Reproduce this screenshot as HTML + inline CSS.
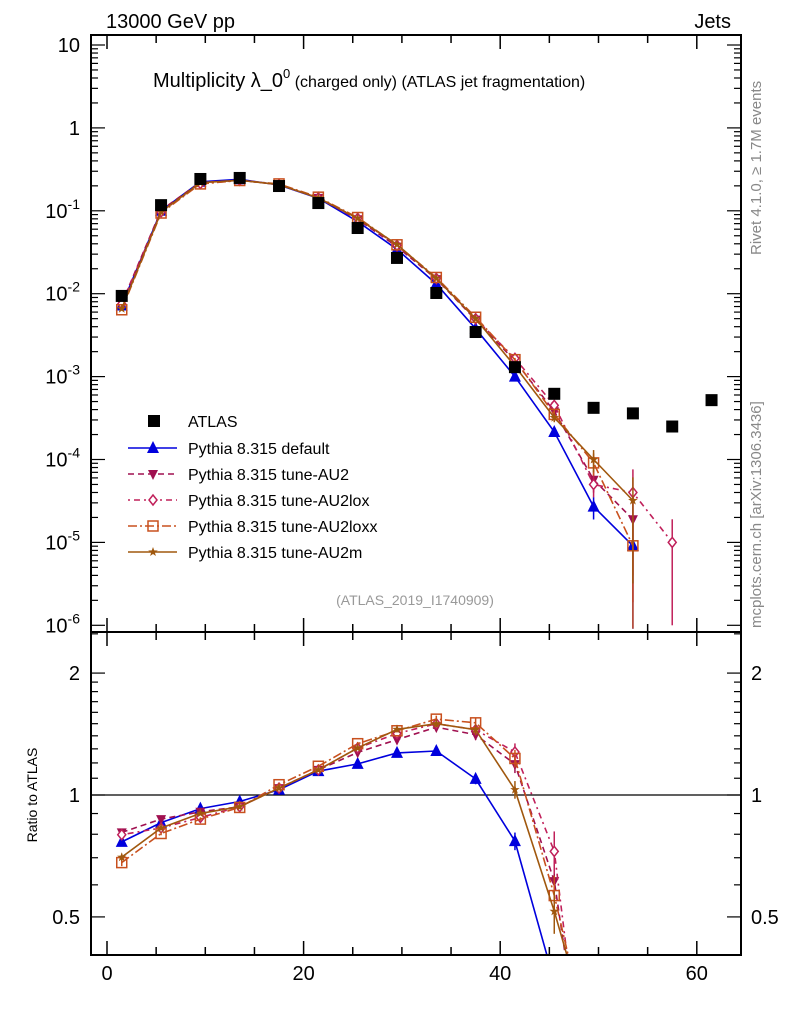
<!DOCTYPE html>
<html><head><meta charset="utf-8"><style>
html,body{margin:0;padding:0;background:#fff;overflow:hidden;width:786px;height:1024px}
svg{font-family:"Liberation Sans",sans-serif;display:block}
</style></head><body>
<svg id="chart" width="786" height="1024" xmlns="http://www.w3.org/2000/svg">
<defs>
<clipPath id="cpMain"><rect x="91" y="35" width="650" height="597"/></clipPath>
<clipPath id="cpRatio"><rect x="91" y="632" width="650" height="323"/></clipPath>
</defs>
<text x="106" y="28" font-size="20">13000 GeV pp</text>
<text x="731" y="28" font-size="20" text-anchor="end">Jets</text>
<text x="153" y="87" font-size="20">Multiplicity λ_0<tspan font-size="13" dy="-9">0</tspan><tspan font-size="16" dy="9"> (charged only) (ATLAS jet fragmentation)</tspan></text>
<text x="0" y="0" font-size="15" fill="#888" transform="translate(761,255) rotate(-90)">Rivet 4.1.0, ≥ 1.7M events</text>
<text x="0" y="0" font-size="15" fill="#888" transform="translate(761,628) rotate(-90)">mcplots.cern.ch [arXiv:1306.3436]</text>
<text x="415" y="605" font-size="14" fill="#999" text-anchor="middle">(ATLAS_2019_I1740909)</text>
<text x="0" y="0" font-size="14" transform="translate(37,795) rotate(-90)" text-anchor="middle">Ratio to ATLAS</text>
<g id="axes"></g>
<g id="mainMarks" clip-path="url(#cpMain)"></g>
<g id="ratioMarks" clip-path="url(#cpRatio)"></g>
<g id="legend"></g>
<rect x="91" y="35" width="650" height="597" fill="none" stroke="#000" stroke-width="2"/>
<rect x="91" y="632" width="650" height="323" fill="none" stroke="#000" stroke-width="2"/>
</svg>
<script>
const xCenters=[1.5,5.5,9.5,13.5,17.5,21.5,25.5,29.5,33.5,37.5,41.5,45.5,49.5,53.5,57.5,61.5];
const atlasVals=[0.0094,0.117,0.242,0.249,0.199,0.124,0.062,0.027,0.0102,0.00345,0.0013,6.2e-4,4.2e-4,3.6e-4,2.5e-4,5.2e-4];
const defaultVals=[0.0072,0.100,0.224,0.240,0.205,0.142,0.074,0.0343,0.0131,0.00378,0.00100,2.15e-4,2.7e-5,9.1e-6];
const au2Vals=[0.0076,0.102,0.220,0.233,0.207,0.143,0.079,0.037,0.0150,0.00486,0.00155,3.8e-4,5.7e-5,1.9e-5];
const au2loxVals=[0.0075,0.097,0.213,0.233,0.207,0.143,0.081,0.0383,0.0153,0.0050,0.00166,4.5e-4,5.0e-5,4.0e-5,1.0e-5];
const au2loxxVals=[0.0064,0.094,0.211,0.232,0.211,0.146,0.083,0.0389,0.0157,0.0052,0.0016,3.5e-4,9.1e-5,9.1e-6];
const au2mVals=[0.0066,0.097,0.218,0.233,0.207,0.143,0.081,0.0392,0.0153,0.0050,0.00134,3.2e-4,1.0e-4,3.2e-5];
const relErr=[0.02,0.01,0.01,0.01,0.01,0.01,0.01,0.01,0.02,0.03,0.05,0.12,0.3,0.9,0.9];
const xTicks=[0,20,40,60];
const yTicksMain=[10,1,0.1,0.01,0.001,1e-4,1e-5,1e-6];
const yTickLabels=["10","1","10^-1","10^-2","10^-3","10^-4","10^-5","10^-6"];
const ratioTicks=[0.5,1,2];

const NS="http://www.w3.org/2000/svg";
const X=v=>107+v*9.83;
const YM=v=>45+(1-Math.log10(v))*82.9;
const YR=r=>795-405*Math.log10(r);
function mk(tag,attrs,parent){const e=document.createElementNS(NS,tag);for(const k in attrs)e.setAttribute(k,attrs[k]);parent.appendChild(e);return e;}
// clip a polyline (array of [x,y]) to y<=ymax, returning point string
function clipPts(pts,ymax){
  const out=[];
  for(let i=0;i<pts.length;i++){
    const [x,y]=pts[i];
    if(y<=ymax){
      if(i>0&&pts[i-1][1]>ymax){const [px,py]=pts[i-1];const t=(ymax-py)/(y-py);out.push([px+t*(x-px),ymax]);}
      out.push([x,y]);
    } else if(i>0&&pts[i-1][1]<=ymax){
      const [px,py]=pts[i-1];const t=(ymax-py)/(y-py);out.push([px+t*(x-px),ymax]);break;
    }
  }
  return out.map(p=>p[0].toFixed(1)+','+p[1].toFixed(1)).join(' ');
}
const axes=document.getElementById('axes');
for(let v=0;v<=64;v+=5){
  const big=(v%20===0);
  const l=big?14:8;
  for(const [yb,dir] of [[955,-1],[632,1],[632,-1],[35,1]]){
    const t=mk('line',{x1:X(v),x2:X(v),y1:yb,y2:yb+dir*l,stroke:'#000','stroke-width':1.5},axes);
    
    
  }
}
xTicks.forEach(v=>{const t=mk('text',{x:X(v),y:980,'font-size':20,'text-anchor':'middle'},axes);t.textContent=v;

});
for(let d=-6;d<=1;d++){
  for(let m=1;m<10;m++){
    const v=m*Math.pow(10,d);const y=YM(v);
    if(y<35||y>632)continue;
    const l=m===1?14:7;
    const a=mk('line',{x1:91,x2:91+l,y1:y,y2:y,stroke:'#000','stroke-width':1.2},axes);
    
    
    const b=mk('line',{x1:741,x2:741-l,y1:y,y2:y,stroke:'#000','stroke-width':1.2},axes);
    
    
  }
}
yTicksMain.forEach((v,i)=>{
  const t=mk('text',{x:80,y:YM(v)+7,'font-size':20,'text-anchor':'end'},axes);
  const lab=yTickLabels[i];
  if(lab.indexOf('^')>=0){const p=lab.split('^');t.textContent=p[0];const s=mk('tspan',{dy:-9,'font-size':14},t);s.textContent=p[1];}
  else t.textContent=lab;
  
  
});
for(let r=0.4;r<=2.55;r+=(r<1.99?0.1:0.5)){
  const y=YR(r);if(y<632||y>955)continue;
  const major=ratioTicks.some(t=>Math.abs(t-r)<1e-6);
  const l=major?14:7;
  const a=mk('line',{x1:91,x2:91+l,y1:y,y2:y,stroke:'#000','stroke-width':1.2},axes);
  
  
  const b=mk('line',{x1:741,x2:741-l,y1:y,y2:y,stroke:'#000','stroke-width':1.2},axes);
  
  
}
ratioTicks.forEach(r=>{
  for(const [x,anc] of [[80,'end'],[751,'start']]){
    const t=mk('text',{x:x,y:YR(r)+7,'font-size':20,'text-anchor':anc},axes);t.textContent=r;
    
    
  }
});
const one=mk('line',{x1:91,x2:741,y1:YR(1),y2:YR(1),stroke:'#000','stroke-width':1.2},axes);



function marker(g,type,x,y,color){
  let e;
  if(type==='sq') e=mk('rect',{x:x-6,y:y-6,width:12,height:12,fill:'#000'},g);
  else if(type==='tri') e=mk('polygon',{points:`${x},${y-7} ${x-6},${y+5} ${x+6},${y+5}`,fill:color},g);
  else if(type==='itri') e=mk('polygon',{points:`${x},${y+6} ${x-5},${y-4} ${x+5},${y-4}`,fill:color},g);
  else if(type==='dia') e=mk('polygon',{points:`${x},${y-5} ${x+4},${y} ${x},${y+5} ${x-4},${y}`,fill:'#fff',stroke:color,'stroke-width':1.5},g);
  else if(type==='osq') e=mk('rect',{x:x-5,y:y-5,width:10,height:10,fill:'none',stroke:color,'stroke-width':1.5},g);
  else if(type==='star'){let p=[];for(let i=0;i<10;i++){const r=i%2?2:5;const a=-Math.PI/2+i*Math.PI/5;p.push((x+r*Math.cos(a)).toFixed(1)+','+(y+r*Math.sin(a)).toFixed(1));}
    e=mk('polygon',{points:p.join(' '),fill:color},g);}
  
  
}
const series=[
 {name:'Pythia 8.315 default',vals:defaultVals,color:'#0000dd',dash:'',m:'tri'},
 {name:'Pythia 8.315 tune-AU2',vals:au2Vals,color:'#a01050',dash:'6,4',m:'itri'},
 {name:'Pythia 8.315 tune-AU2lox',vals:au2loxVals,color:'#c0205a',dash:'2,4,6,4',m:'dia'},
 {name:'Pythia 8.315 tune-AU2loxx',vals:au2loxxVals,color:'#c8501e',dash:'9,3,2,3',m:'osq'},
 {name:'Pythia 8.315 tune-AU2m',vals:au2mVals,color:'#a0580e',dash:'',m:'star'}
];
const gM=document.getElementById('mainMarks'),gR=document.getElementById('ratioMarks');
series.forEach((s,si)=>{
  const pts=s.vals.map((v,i)=>X(xCenters[i]).toFixed(1)+','+YM(v).toFixed(1)).join(' ');
  const pl=mk('polyline',{points:pts,fill:'none',stroke:s.color,'stroke-width':1.6,'stroke-dasharray':s.dash},gM);
  
  
  const rpArr=s.vals.map((v,i)=>[X(xCenters[i]),YR(v/atlasVals[i])]);
  const rl=mk('polyline',{points:clipPts(rpArr,960),fill:'none',stroke:s.color,'stroke-width':1.6,'stroke-dasharray':s.dash},gR);
  
  
  s.vals.forEach((v,i)=>{
    const x=X(xCenters[i]),e=relErr[i]||0.5;
    const hi=v*(1+e),lo=v*(1-e);
    const eb=mk('line',{x1:x,x2:x,y1:YM(hi),y2:Math.min(lo>0?YM(lo):632,632),stroke:s.color,'stroke-width':1.5},gM);
    
    
    const r=v/atlasVals[i];
    const ry=YR(r);
    if(ry>960)return;
    marker(gM,s.m,x,YM(v),s.color);
    const eb2=mk('line',{x1:x,x2:x,y1:YR(r*(1+e)),y2:Math.min(YR(Math.max(r*(1-e),0.01)),955),stroke:s.color,'stroke-width':1.5},gR);
    
    
    marker(gR,s.m,x,ry,s.color);
  });
  // main markers for points whose ratio is off-panel
  s.vals.forEach((v,i)=>{ if(YR(v/atlasVals[i])>960) marker(gM,s.m,X(xCenters[i]),YM(v),s.color); });
});
atlasVals.forEach((v,i)=>marker(gM,'sq',X(xCenters[i]),YM(v),'#000'));

const lg=document.getElementById('legend');
const ly=[421,448,474,500,526,552];
const ax=mk('rect',{x:148,y:ly[0]-6,width:12,height:12,fill:'#000'},lg);


const at=mk('text',{x:188,y:ly[0]+6,'font-size':16},lg);at.textContent='ATLAS';


series.forEach((s,i)=>{
  const y=ly[i+1];
  const l=mk('line',{x1:128,x2:177,y1:y,y2:y,stroke:s.color,'stroke-width':1.6,'stroke-dasharray':s.dash},lg);
  
  
  marker(lg,s.m,153,y,s.color);
  const t=mk('text',{x:188,y:y+6,'font-size':16},lg);t.textContent=s.name;
  
  
});
</script>
</body></html>
